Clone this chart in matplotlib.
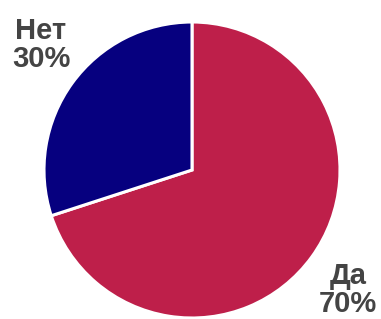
import matplotlib
matplotlib.use("Agg")
import matplotlib.pyplot as plt

categories = ["Да", "Нет"]
values = [70, 30]
colors = ["#BE1F4A", "#06007F"]

W, H, DPI = 381, 319, 100
fig = plt.figure(figsize=(W / DPI, H / DPI), dpi=DPI)
ax = fig.add_axes([0, 0, 1, 1])

cx, cy, r = 192, 170, 148

labels = [f"{c}\n{v}%" for c, v in zip(categories, values)]
wedges, texts = ax.pie(values, colors=colors, startangle=90, counterclock=False,
                       labels=labels, labeldistance=1.33,
                       wedgeprops=dict(edgecolor="white", linewidth=2.2),
                       textprops=dict(fontsize=21, fontweight="bold", color="#444444",
                                      family="Liberation Sans", ha="center", va="center",
                                      linespacing=1.0),
                       frame=True)
# label anchor positions (in pie radius units)
texts[0].set_position((156 / r, -120 / r))
texts[1].set_position((-151 / r, 125 / r))

ax.set_xlim(-cx / r, (W - cx) / r)
ax.set_ylim(-(H - cy) / r, cy / r)
ax.set_aspect("auto")
ax.axis("off")

fig.savefig("out.png", dpi=DPI)
